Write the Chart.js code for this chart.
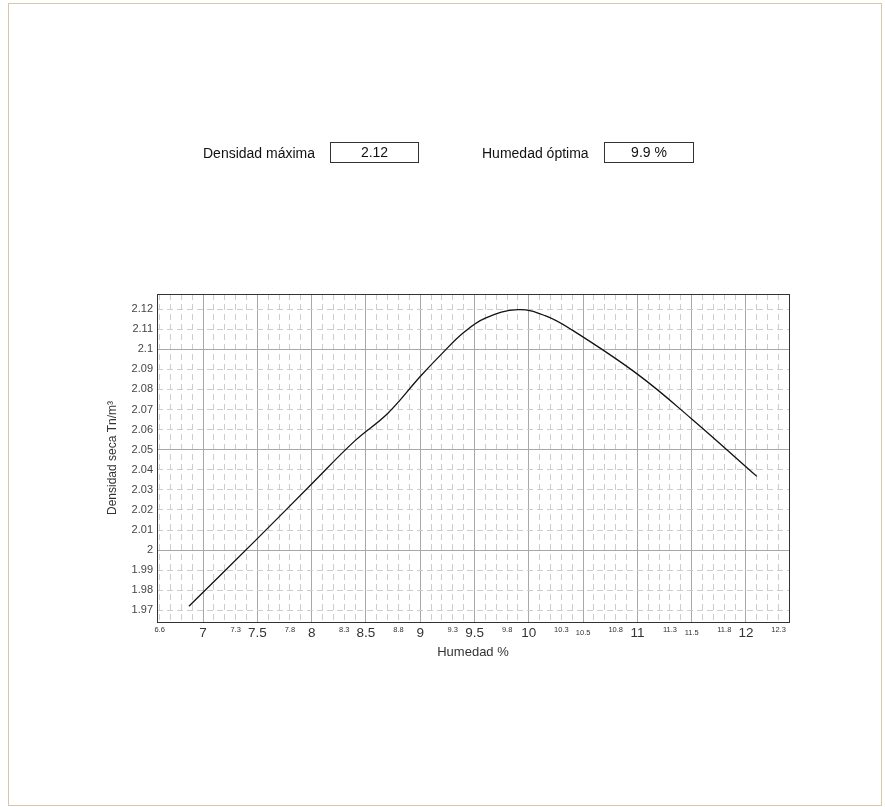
<!DOCTYPE html>
<html>
<head>
<meta charset="utf-8">
<script src="https://cdn.jsdelivr.net/npm/chart.js@4.4.1/dist/chart.umd.min.js"></script>
<style>
  body { margin: 0; background: #fff; font-family: "Liberation Sans", Arial, sans-serif; }
  #frame { position: absolute; left: 8px; top: 3px; width: 874px; height: 803px; border: 1px solid #d9c5a9; box-sizing: border-box; }
  .lbl { position: absolute; font-size: 14px; line-height: 16px; color: #111; white-space: nowrap; }
  .box { position: absolute; top: 142px; height: 21px; border: 1px solid #333; box-sizing: border-box; font-size: 14px; line-height: 19px; text-align: center; color: #111; }
  canvas { position: absolute; left: 0; top: 0; }
</style>
</head>
<body>
<canvas id="proctor" width="885" height="807"></canvas>
<div id="frame"></div>
<div class="lbl" style="left:203px;top:145px">Densidad máxima</div>
<div class="box" id="dmax" style="left:330px;width:89px"></div>
<div class="lbl" style="left:482px;top:145px">Humedad óptima</div>
<div class="box" id="hopt" style="left:604px;width:90px"></div>

<script>
// curva de compactacion
const humedad  = [6.87, 7.5, 8.0, 8.4, 8.7, 9.0, 9.2, 9.4, 9.6, 9.9, 10.15, 10.4, 11.0, 11.5, 12.1];
const densidad = [1.972, 2.0057, 2.0329, 2.0545, 2.068, 2.0864, 2.0978, 2.1083, 2.1155, 2.1197, 2.1167, 2.1095, 2.0876, 2.0653, 2.0367];

const densidadMax = '2.12';
const humedadOpt = '9.9 %';

// etiquetas del eje x (grandes, chicas, chicas centradas)
const xLabelsBig = [7, 7.5, 8, 8.5, 9, 9.5, 10, 11, 12];
const xLabelsSmall = [6.6, 7.3, 7.8, 8.3, 8.8, 9.3, 9.8, 10.3, 10.8, 11.3, 11.8, 12.3];
const xLabelsSmallLow = [10.5, 11.5];
const yLabels = [1.97, 1.98, 1.99, 2, 2.01, 2.02, 2.03, 2.04, 2.05, 2.06, 2.07, 2.08, 2.09, 2.1, 2.11, 2.12];

document.getElementById('dmax').textContent = densidadMax;
document.getElementById('hopt').textContent = humedadOpt;

Chart.defaults.font.family = '"Liberation Sans", Arial, sans-serif';

let xGrid = [];
for (let i = 66; i <= 123; i++) xGrid.push(i / 10);

let tenth = v => Math.round(v * 10);
let hundredth = v => Math.round(v * 100);
let inList = (list, v) => list.some(l => Math.abs(l - v) < 1e-6);

let majorX = c => c.tick && tenth(c.tick.value) % 5 === 0;
let majorY = c => c.tick && hundredth(c.tick.value) % 5 === 0;

const plotFrame = {
  id: 'plotFrame',
  afterDraw(chart) {
    const {ctx, chartArea: a} = chart;
    ctx.save();
    ctx.strokeStyle = '#333';
    ctx.lineWidth = 1;
    ctx.strokeRect(Math.round(a.left) + 0.5, Math.round(a.top) + 0.5, Math.round(a.right - a.left), Math.round(a.bottom - a.top));
    ctx.restore();
  }
};

new Chart(document.getElementById('proctor'), {
  type: 'line',
  data: {
    datasets: [{
      data: humedad.map((h, i) => ({x: h, y: densidad[i]})),
      borderColor: '#111',
      borderWidth: 1.3,
      pointRadius: 0,
      tension: 0.4,
      fill: false
    }]
  },
  options: {
    responsive: false,
    animation: false,
    layout: { padding: { left: 101, top: 294, right: 96, bottom: 143 } },
    plugins: { legend: { display: false }, tooltip: { enabled: false } },
    scales: {
      x: {
        type: 'linear',
        min: 6.576,
        max: 12.396,
        afterBuildTicks: s => { s.ticks = xGrid.map(v => ({value: v})); },
        afterFit: s => { s.height = 42; },
        grid: {
          color: c => majorX(c) ? '#a8a8a8' : '#cdcdcd',
          lineWidth: 1,
          drawTicks: false
        },
        border: { display: false, dash: c => (c.tick && !majorX(c)) ? [6, 4] : [] },
        ticks: {
          autoSkip: false,
          maxRotation: 0,
          padding: 3,
          color: '#333',
          font: c => {
            if (!c.tick) return {size: 13};
            let v = c.tick.value;
            if (inList(xLabelsBig, v)) return {size: 13.5, lineHeight: 1.2};
            if (inList(xLabelsSmallLow, v)) return {size: 7.5, lineHeight: 2.15};
            return {size: 7.5, lineHeight: 1.2};
          },
          callback: v => (inList(xLabelsBig, v) || inList(xLabelsSmall, v) || inList(xLabelsSmallLow, v)) ? String(tenth(v) / 10) : ''
        },
        title: { display: true, text: 'Humedad %', color: '#333', font: {size: 13} }
      },
      y: {
        type: 'linear',
        min: 1.9642,
        max: 2.1275,
        afterBuildTicks: s => { s.ticks = yLabels.map(v => ({value: v})); },
        afterFit: s => { s.width = 56; },
        grid: {
          color: c => majorY(c) ? '#a8a8a8' : '#cdcdcd',
          lineWidth: 1,
          drawTicks: false
        },
        border: { display: false, dash: c => (c.tick && !majorY(c)) ? [6, 4] : [] },
        ticks: {
          autoSkip: false,
          padding: 4,
          color: '#444',
          font: {size: 11},
          callback: v => String(hundredth(v) / 100)
        },
        title: { display: true, text: 'Densidad seca Tn/m³', color: '#333', font: {size: 12} }
      }
    }
  },
  plugins: [plotFrame]
});
</script>
</body>
</html>
